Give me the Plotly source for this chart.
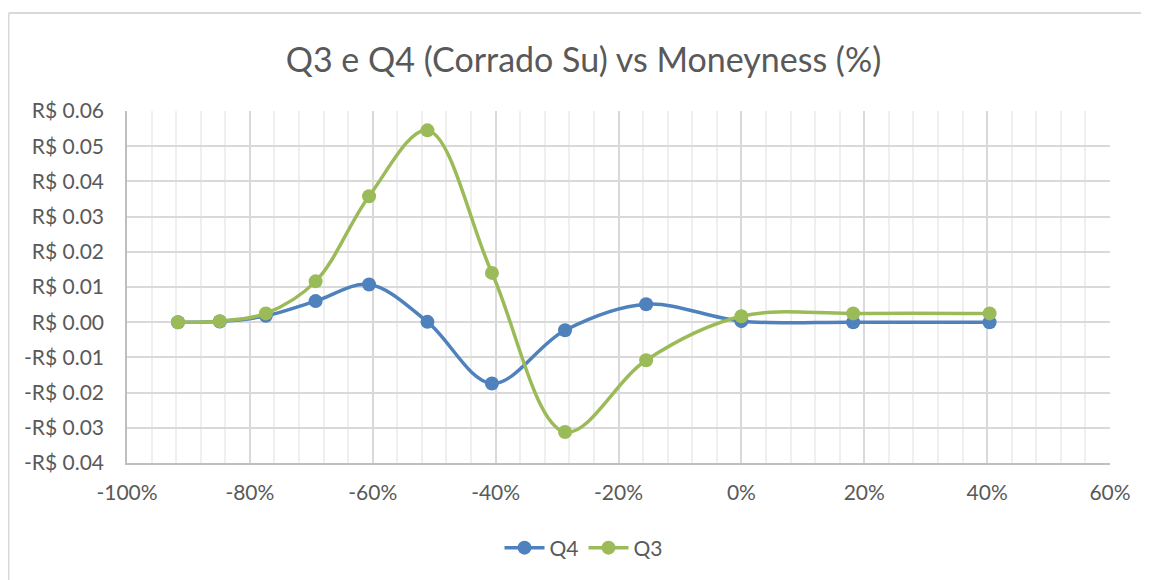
import plotly.graph_objects as go

# moneyness (%) and values (R$)
moneyness = [-91.7, -84.9, -77.4, -69.3, -60.6, -51.1, -40.6, -28.7, -15.5, 0.0, 18.2, 40.4]
q4 = [0.0, 0.0002, 0.0018, 0.0060, 0.0107, 0.0001, -0.0174, -0.0023, 0.0051, 0.0003, 0.0, 0.0]
q3 = [0.0, 0.0003, 0.0025, 0.0116, 0.0358, 0.0545, 0.0140, -0.0312, -0.0108, 0.0017, 0.0025, 0.0025]

x_ticks = [-100, -80, -60, -40, -20, 0, 20, 40, 60]
x_labels = ["-100%", "-80%", "-60%", "-40%", "-20%", "0%", "20%", "40%", "60%"]
y_ticks = [0.06, 0.05, 0.04, 0.03, 0.02, 0.01, 0.0, -0.01, -0.02, -0.03, -0.04]
y_labels = ["R$ 0.06", "R$ 0.05", "R$ 0.04", "R$ 0.03", "R$ 0.02", "R$ 0.01", "R$ 0.00",
            "-R$ 0.01", "-R$ 0.02", "-R$ 0.03", "-R$ 0.04"]

BLUE = "#4F81BD"
GREEN = "#9BBB59"
TXT = "#595959"
FONT = "Lato"

# page body adds an 8px offset, so the figure is a bit smaller than the window
W, H = 1141, 572
L, R, T, B = 119, 39, 103, 117
pw, ph = W - L - R, H - T - B

fig = go.Figure()
fig.add_trace(go.Scatter(x=moneyness, y=q4, name="Q4", mode="lines+markers",
                         line=dict(color=BLUE, width=3.5, shape="spline", smoothing=1),
                         marker=dict(size=14, color=BLUE)))
fig.add_trace(go.Scatter(x=moneyness, y=q3, name="Q3", mode="lines+markers",
                         line=dict(color=GREEN, width=3.5, shape="spline", smoothing=1),
                         marker=dict(size=14, color=GREEN)))

# outer chart frame (left and top edges)
frame = dict(color="#D9D9D9", width=2)
fx0, fx1 = (0.5 - L) / pw, (W - L) / pw
fy0, fy1 = -(H - T - ph) / ph, 1 + (T - 5) / ph

fig.update_layout(
    width=W, height=H,
    margin=dict(l=L, r=R, t=T, b=B, autoexpand=False),
    paper_bgcolor="white", plot_bgcolor="white",
    font=dict(family=FONT, color=TXT, size=21),
    title=dict(text="Q3 e Q4 (Corrado Su) vs Moneyness (%)", x=575.5 / W, xanchor="center",
               y=1 - 52 / H, yanchor="middle", font=dict(size=34, color=TXT, family=FONT)),
    showlegend=True,
    legend=dict(orientation="h", x=(575.5 - L) / pw, xanchor="center", y=-85 / ph, yanchor="middle",
                font=dict(size=21, color=TXT), itemwidth=40),
    shapes=[dict(type="line", xref="paper", yref="paper", x0=fx0, x1=fx0, y0=fy0, y1=fy1,
                 line=frame, layer="below"),
            dict(type="line", xref="paper", yref="paper", x0=fx0, x1=fx1, y0=fy1, y1=fy1,
                 line=frame, layer="below")],
)
fig.update_xaxes(range=[-100, 60], tickvals=x_ticks, ticktext=x_labels, automargin=False,
                 showgrid=True, gridcolor="#D9D9D9", gridwidth=1.5,
                 minor=dict(dtick=4, tick0=-100, showgrid=True, gridcolor="#EFEFEF", gridwidth=1.5),
                 showline=True, linecolor="#BFBFBF", linewidth=1.5, mirror=False,
                 zeroline=False, ticks="", ticklabelstandoff=10, tickfont=dict(size=21, color=TXT))
fig.update_yaxes(range=[-0.04, 0.06], tickvals=y_ticks, ticktext=y_labels, automargin=False,
                 showgrid=True, gridcolor="#D9D9D9", gridwidth=1.5,
                 showline=True, linecolor="#BFBFBF", linewidth=1.5,
                 zeroline=False, ticks="", ticklabelstandoff=17, tickfont=dict(size=21, color=TXT))

fig.write_html("out.html")
